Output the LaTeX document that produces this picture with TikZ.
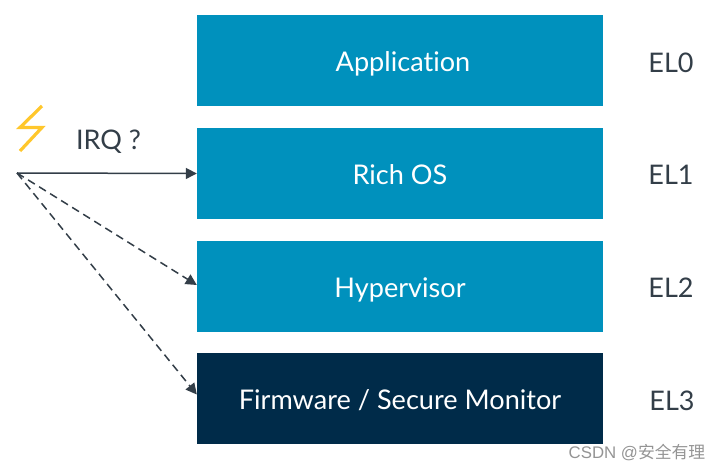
\documentclass[tikz,border=0pt]{standalone}
\usepackage{fontspec}
\setmainfont[Ligatures=CommonOff]{Lato}
\newfontfamily\cjk{Noto Sans CJK SC}
\setsansfont{Liberation Sans}
\usetikzlibrary{arrows.meta}
\definecolor{armblue}{HTML}{0091BD}
\definecolor{armnavy}{HTML}{002B49}
\definecolor{armgray}{HTML}{333E48}
\definecolor{boltyellow}{HTML}{FFC72C}
\tikzset{
  level/.style={minimum width=406pt,minimum height=91pt,inner sep=0pt,text height=21.5pt,text depth=0pt,text=white,font=\fontsize{27.1}{27}\selectfont},
  ellabel/.style={text=armgray,font=\fontsize{27}{27}\selectfont},
  irqarrow/.style={armgray,line width=1.5pt,-{Triangle[length=11pt,width=11pt]}},
  irqdash/.style={irqarrow,dash pattern=on 8pt off 5pt}
}
\begin{document}
\begin{tikzpicture}[x=1pt,y=-1pt]
      \useasboundingbox (0,0) rectangle (720,470);
      \node[level,fill=armblue] (app) at (400,60.5) {\hspace{6pt}Application};
      \node[level,fill=armblue] (richos) at (400,173.5) {Rich OS};
      \node[level,fill=armblue] (hyp) at (400,286.5) {Hypervisor};
      \node[level,fill=armnavy] (fw) at (400,398.5) {Firmware / Secure Monitor};
      \node[ellabel] (el0) at (671,62.5) {EL0};
      \node[ellabel] (el1) at (671,175) {EL1};
      \node[ellabel] (el2) at (671,287.5) {EL2};
      \node[ellabel] (el3) at (672,400.5) {EL3};
      \coordinate (irqsrc) at (17,173);
      \node[ellabel] (irq) at (108.5,141.5) {IRQ ?};
      \draw[boltyellow,line width=3.2pt,line join=miter] (42,106) -- (20,127.5) -- (42,127.5) -- (20,151);
      \draw[irqarrow] (irqsrc) -- (richos.west);
      \draw[irqdash] (irqsrc) -- ([yshift=1.5pt]hyp.west);
      \draw[irqdash] (irqsrc) -- ([yshift=4pt]fw.west);
      \node[text=black!42,font=\sffamily\fontsize{16.8}{16.8}\selectfont] (mark) at (637,453) {CSDN @{\cjk 安全有理}};
\end{tikzpicture}
\end{document}
